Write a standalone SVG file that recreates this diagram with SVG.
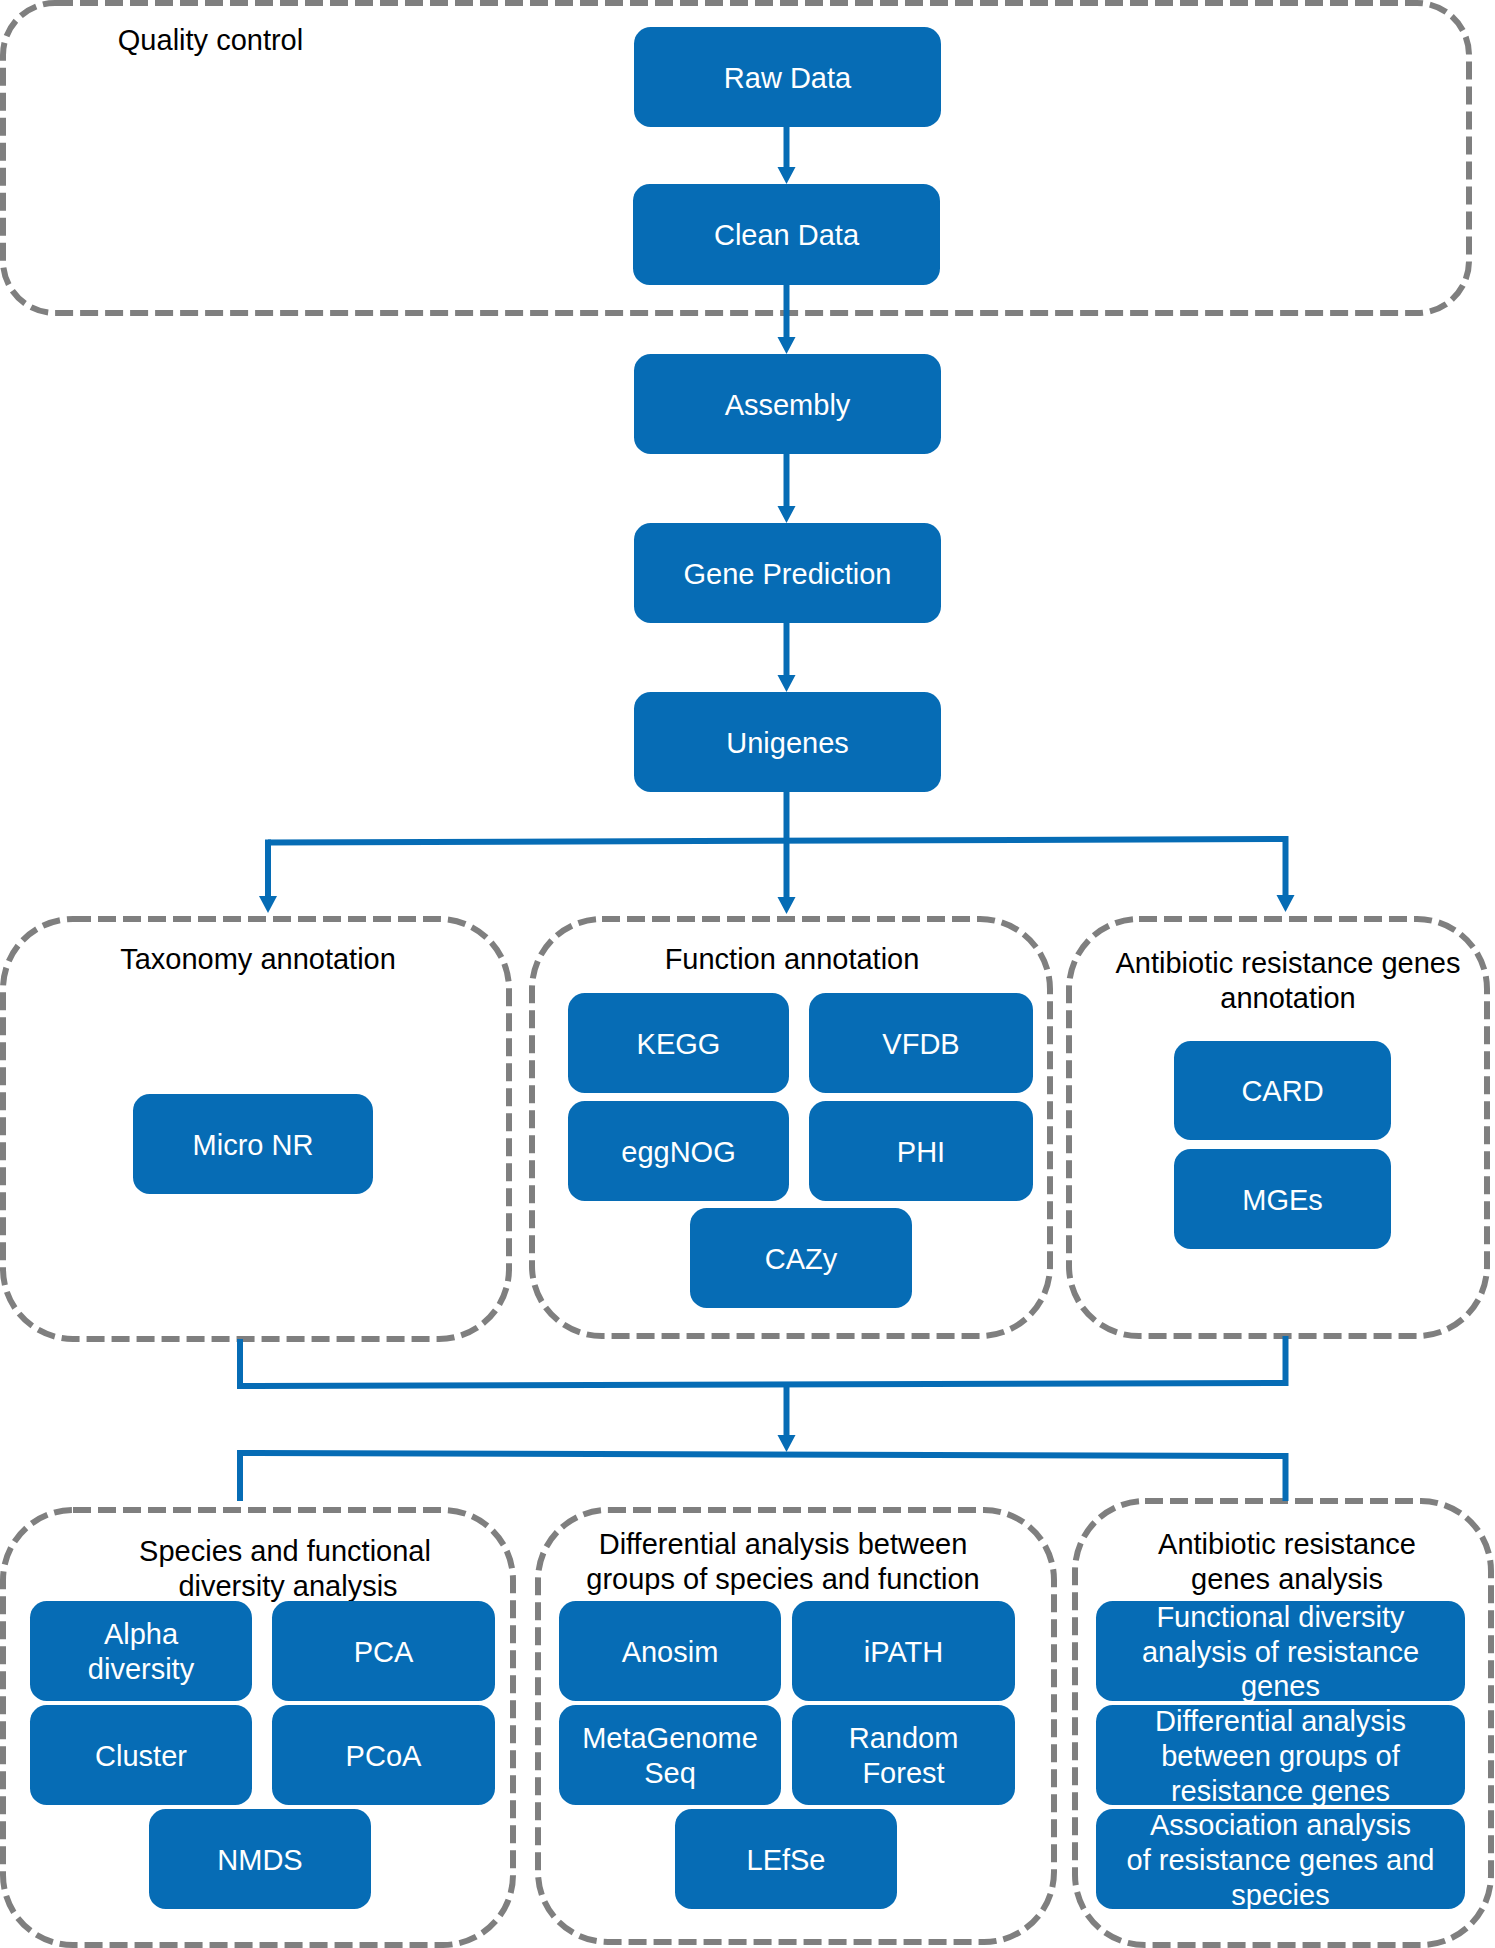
<svg xmlns="http://www.w3.org/2000/svg" width="1495" height="1948" viewBox="0 0 1495 1948">
<style>
.n{fill:#066cb5}
.nt{fill:#ffffff;font-family:"Liberation Sans",Arial,sans-serif;font-size:29px;text-anchor:middle}
.g{fill:none;stroke:#7f7f7f;stroke-width:6;stroke-dasharray:18 7}
.gt{fill:#000000;font-family:"Liberation Sans",Arial,sans-serif;font-size:29px;text-anchor:middle}
.c{fill:none;stroke:#066cb5;stroke-width:6}
</style>
<defs>
<marker id="ah" markerUnits="userSpaceOnUse" markerWidth="18" markerHeight="18" refX="0" refY="9" orient="auto" overflow="visible">
<path d="M0,0 L17,9 L0,18 Z" fill="#066cb5"/>
</marker>
</defs>
<rect width="1495" height="1948" fill="#ffffff"/>

<g id="group-qc">
<rect class="g" x="3" y="3" width="1466" height="310" rx="52"/>
<text class="gt" x="210.5" y="50">Quality control</text>
</g>
<g id="group-taxonomy">
<rect class="g" x="3" y="919" width="506" height="420" rx="70"/>
<text class="gt" x="258" y="969">Taxonomy annotation</text>
</g>
<g id="group-function">
<rect class="g" x="532" y="919" width="518" height="417" rx="70"/>
<text class="gt" x="792" y="969">Function annotation</text>
</g>
<g id="group-arg-annotation">
<rect class="g" x="1069" y="919" width="418" height="417" rx="70"/>
<text class="gt" x="1288" y="973">Antibiotic resistance genes</text>
<text class="gt" x="1288" y="1008">annotation</text>
</g>
<g id="group-diversity">
<rect class="g" x="3" y="1510" width="510" height="435" rx="70"/>
<text class="gt" x="285" y="1561">Species and functional</text>
<text class="gt" x="288" y="1596">diversity analysis</text>
</g>
<g id="group-differential">
<rect class="g" x="538" y="1510" width="516" height="432" rx="70"/>
<text class="gt" x="783" y="1554">Differential analysis between</text>
<text class="gt" x="783" y="1589">groups of species and function</text>
</g>
<g id="group-arg-analysis">
<rect class="g" x="1075" y="1501" width="416" height="444" rx="70"/>
<text class="gt" x="1287" y="1554">Antibiotic resistance</text>
<text class="gt" x="1287" y="1589">genes analysis</text>
</g>

<g id="connectors">
<path class="c" d="M786.5,127 V167" marker-end="url(#ah)"/>
<path class="c" d="M786.5,285 V337" marker-end="url(#ah)"/>
<path class="c" d="M786.5,454 V506" marker-end="url(#ah)"/>
<path class="c" d="M786.5,623 V675" marker-end="url(#ah)"/>
<path class="c" d="M786.5,792 V897" marker-end="url(#ah)"/>
<path class="c" d="M268,842.5 L1285,839"/>
<path class="c" d="M268,839.5 V896" marker-end="url(#ah)"/>
<path class="c" d="M1285.5,836 V895" marker-end="url(#ah)"/>
<path class="c" d="M240,1339 V1389"/>
<path class="c" d="M237,1386 L1285,1383"/>
<path class="c" d="M1285.5,1336 V1386"/>
<path class="c" d="M786.5,1385 V1435" marker-end="url(#ah)"/>
<path class="c" d="M237,1453 L1288,1456"/>
<path class="c" d="M240,1450 V1501"/>
<path class="c" d="M1285.5,1453 V1501"/>
</g>

<g id="raw-data"><rect class="n" x="634" y="27" width="307" height="100" rx="16.7"/><text class="nt" x="787.5" y="87.5">Raw Data</text></g>
<g id="clean-data"><rect class="n" x="633" y="184" width="307" height="101" rx="16.7"/><text class="nt" x="786.5" y="245">Clean Data</text></g>
<g id="assembly"><rect class="n" x="634" y="354" width="307" height="100" rx="16.7"/><text class="nt" x="787.5" y="414.5">Assembly</text></g>
<g id="gene-prediction"><rect class="n" x="634" y="523" width="307" height="100" rx="16.7"/><text class="nt" x="787.5" y="583.5">Gene Prediction</text></g>
<g id="unigenes"><rect class="n" x="634" y="692" width="307" height="100" rx="16.7"/><text class="nt" x="787.5" y="752.5">Unigenes</text></g>

<g id="micro-nr"><rect class="n" x="133" y="1094" width="240" height="100" rx="16.7"/><text class="nt" x="253" y="1154.5">Micro NR</text></g>
<g id="kegg"><rect class="n" x="568" y="993" width="221" height="100" rx="16.7"/><text class="nt" x="678.5" y="1053.5">KEGG</text></g>
<g id="vfdb"><rect class="n" x="809" y="993" width="224" height="100" rx="16.7"/><text class="nt" x="921" y="1053.5">VFDB</text></g>
<g id="eggnog"><rect class="n" x="568" y="1101" width="221" height="100" rx="16.7"/><text class="nt" x="678.5" y="1161.5">eggNOG</text></g>
<g id="phi"><rect class="n" x="809" y="1101" width="224" height="100" rx="16.7"/><text class="nt" x="921" y="1161.5">PHI</text></g>
<g id="cazy"><rect class="n" x="690" y="1208" width="222" height="100" rx="16.7"/><text class="nt" x="801" y="1268.5">CAZy</text></g>
<g id="card"><rect class="n" x="1174" y="1041" width="217" height="99" rx="16.7"/><text class="nt" x="1282.5" y="1101">CARD</text></g>
<g id="mges"><rect class="n" x="1174" y="1149" width="217" height="100" rx="16.7"/><text class="nt" x="1282.5" y="1209.5">MGEs</text></g>

<g id="alpha-diversity"><rect class="n" x="30" y="1601" width="222" height="100" rx="16.7"/><text class="nt" x="141" y="1643.5">Alpha</text><text class="nt" x="141" y="1678.5">diversity</text></g>
<g id="pca"><rect class="n" x="272" y="1601" width="223" height="100" rx="16.7"/><text class="nt" x="383.5" y="1661.5">PCA</text></g>
<g id="cluster"><rect class="n" x="30" y="1705" width="222" height="100" rx="16.7"/><text class="nt" x="141" y="1765.5">Cluster</text></g>
<g id="pcoa"><rect class="n" x="272" y="1705" width="223" height="100" rx="16.7"/><text class="nt" x="383.5" y="1765.5">PCoA</text></g>
<g id="nmds"><rect class="n" x="149" y="1809" width="222" height="100" rx="16.7"/><text class="nt" x="260" y="1869.5">NMDS</text></g>

<g id="anosim"><rect class="n" x="559" y="1601" width="222" height="100" rx="16.7"/><text class="nt" x="670" y="1661.5">Anosim</text></g>
<g id="ipath"><rect class="n" x="792" y="1601" width="223" height="100" rx="16.7"/><text class="nt" x="903.5" y="1661.5">iPATH</text></g>
<g id="metagenomeseq"><rect class="n" x="559" y="1705" width="222" height="100" rx="16.7"/><text class="nt" x="670" y="1747.5">MetaGenome</text><text class="nt" x="670" y="1782.5">Seq</text></g>
<g id="random-forest"><rect class="n" x="792" y="1705" width="223" height="100" rx="16.7"/><text class="nt" x="903.5" y="1747.5">Random</text><text class="nt" x="903.5" y="1782.5">Forest</text></g>
<g id="lefse"><rect class="n" x="675" y="1809" width="222" height="100" rx="16.7"/><text class="nt" x="786" y="1869.5">LEfSe</text></g>

<g id="functional-diversity-resistance"><rect class="n" x="1096" y="1601" width="369" height="100" rx="16.7"/><text class="nt" x="1280.5" y="1627">Functional diversity</text><text class="nt" x="1280.5" y="1661.5">analysis of resistance</text><text class="nt" x="1280.5" y="1696">genes</text></g>
<g id="differential-resistance"><rect class="n" x="1096" y="1705" width="369" height="100" rx="16.7"/><text class="nt" x="1280.5" y="1731">Differential analysis</text><text class="nt" x="1280.5" y="1766">between groups of</text><text class="nt" x="1280.5" y="1801">resistance genes</text></g>
<g id="association-resistance"><rect class="n" x="1096" y="1809" width="369" height="100" rx="16.7"/><text class="nt" x="1280.5" y="1835">Association analysis</text><text class="nt" x="1280.5" y="1870">of resistance genes and</text><text class="nt" x="1280.5" y="1905">species</text></g>
</svg>
